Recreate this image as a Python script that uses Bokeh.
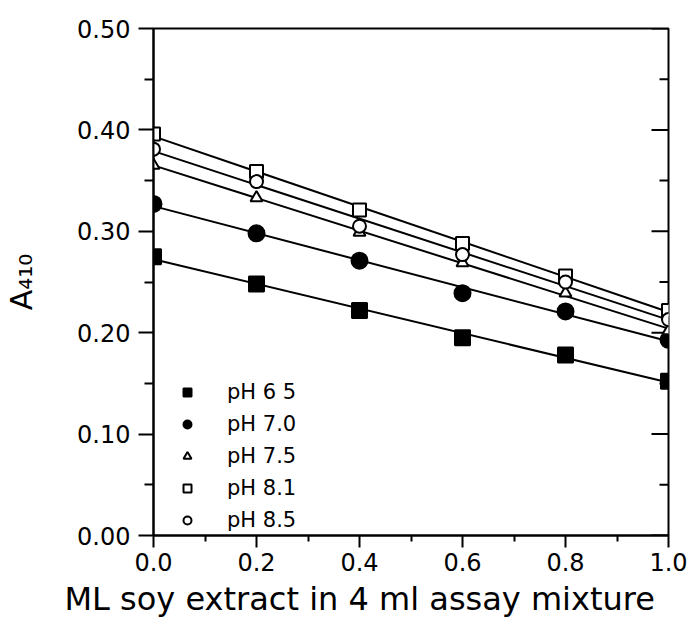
import numpy as np
from bokeh.plotting import figure
from bokeh.models import (Range1d, FixedTicker, NumeralTickFormatter,
                          Legend, LegendItem, Title)
from bokeh.embed import file_html
from bokeh.resources import INLINE

# ---- data ----
x_ml = [0.0, 0.2, 0.4, 0.6, 0.8, 1.0]
ph65 = [0.275, 0.248, 0.222, 0.195, 0.178, 0.152]
ph70 = [0.327, 0.298, 0.271, 0.239, 0.221, 0.193]
ph75 = [0.365, 0.333, 0.299, 0.269, 0.239, 0.202]
ph81 = [0.396, 0.359, 0.321, 0.288, 0.256, 0.222]
ph85 = [0.381, 0.349, 0.305, 0.277, 0.250, 0.213]
labels = ["pH 6 5", "pH 7.0", "pH 7.5", "pH 8.1", "pH 8.5"]
x_ticks = [0.0, 0.2, 0.4, 0.6, 0.8, 1.0]
x_minor = [0.1, 0.3, 0.5, 0.7, 0.9]
y_ticks = [0.0, 0.1, 0.2, 0.3, 0.4, 0.5]
y_minor = [0.05, 0.15, 0.25, 0.35, 0.45]
x_title = "ML soy extract in 4 ml assay mixture"
y_title = "A\u2084\u2081\u2080"

FONT = "DejaVu Sans"

p = figure(width=689, height=633, output_backend="svg", toolbar_location=None,
           x_range=Range1d(0, 1), y_range=Range1d(0, 0.5),
           min_border_left=153, min_border_right=21, min_border_top=28,
           min_border_bottom=98)
p.xgrid.visible = False
p.ygrid.visible = False
p.outline_line_color = "black"
p.outline_line_width = 2
p.background_fill_color = "white"
p.border_fill_color = "white"

# x axis
xa = p.xaxis[0]
xa.ticker = FixedTicker(ticks=x_ticks, minor_ticks=x_minor)
xa.formatter = NumeralTickFormatter(format="0.0")
xa.axis_line_width = 2
xa.major_tick_line_width = 2
xa.minor_tick_line_width = 2
xa.major_tick_out = 12
xa.major_tick_in = 0
xa.minor_tick_out = 6
xa.minor_tick_in = 0
xa.major_label_text_font = FONT
xa.major_label_text_font_size = "24px"
xa.major_label_text_color = "black"
xa.major_label_standoff = 5

# x-axis title (left of frame centre, as in the reference)
p.add_layout(Title(text=x_title, align="left", offset=-89, standoff=9,
                   text_font=FONT, text_font_size="32px",
                   text_font_style="normal", text_color="black"), "below")

# y axis
ya = p.yaxis[0]
ya.ticker = FixedTicker(ticks=y_ticks, minor_ticks=y_minor)
ya.formatter = NumeralTickFormatter(format="0.00")
ya.axis_line_width = 2
ya.major_tick_line_width = 2
ya.minor_tick_line_width = 2
ya.major_tick_out = 15
ya.major_tick_in = 0
ya.minor_tick_out = 9
ya.minor_tick_in = 0
ya.major_label_text_font = FONT
ya.major_label_text_font_size = "24px"
ya.major_label_text_color = "black"
ya.major_label_standoff = 8
ya.axis_label = y_title
ya.axis_label_text_font = FONT
ya.axis_label_text_font_size = "30px"
ya.axis_label_text_font_style = "normal"
ya.axis_label_text_color = "black"
ya.axis_label_standoff = 35

# inward ticks on the right frame edge
n_maj = len(y_ticks)
n_min = len(y_minor)
p.ray(x=[1.0] * n_maj, y=y_ticks, length=17, length_units="screen",
      angle=np.pi, line_color="black", line_width=2)
p.ray(x=[1.0] * n_min, y=y_minor, length=9, length_units="screen",
      angle=np.pi, line_color="black", line_width=2)

series = [ph65, ph70, ph75, ph81, ph85]
markers = ["square", "circle", "triangle", "square", "circle"]
fills = ["black", "black", "white", "white", "white"]
sizes = [15, 16, 12, 13, 13]

xs = np.array(x_ml)
for ys in series:
    k, b = np.polyfit(xs, np.array(ys), 1)
    p.line([xs[0], xs[-1]], [b + k * xs[0], b + k * xs[-1]],
           line_color="black", line_width=2)

items = []
for ys, m, f, s, lab in zip(series, markers, fills, sizes, labels):
    r = p.scatter(x_ml, ys, marker=m, size=s, fill_color=f,
                  line_color="black", line_width=2)
    items.append(LegendItem(label=lab, renderers=[r]))

leg = Legend(items=items, location=(24, 3),
             label_text_font=FONT, label_text_font_size="21px",
             label_text_color="black",
             glyph_width=20, glyph_height=20, label_height=20,
             spacing=8, padding=0, margin=0, label_standoff=30,
             border_line_color=None, background_fill_alpha=0)
p.add_layout(leg, "center")

open("out.html", "w").write(file_html(p, INLINE))
